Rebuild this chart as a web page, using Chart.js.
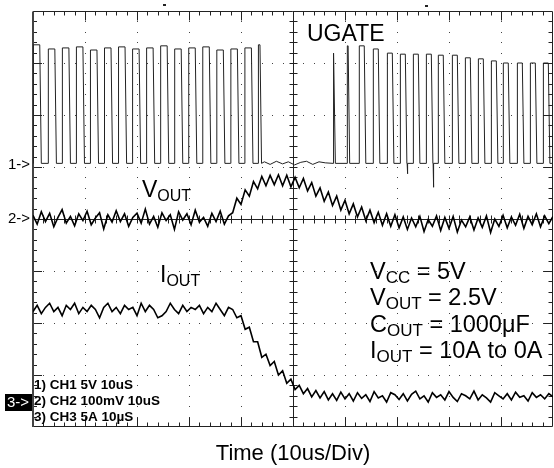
<!DOCTYPE html>
<html>
<head>
<meta charset="utf-8">
<script src="https://cdn.jsdelivr.net/npm/chart.js@4.4.0/dist/chart.umd.min.js"></script>
<style>
  html, body { margin:0; padding:0; background:#fff; }
</style>
</head>
<body>
<canvas id="grafico" width="554" height="468"></canvas>
<script>
// captura de osciloscopio: 10us/div, 10 div x 8 div
var sampleStepUs = 0.8;

// CH1 UGATE (V) - 5V/div
var ugateRise = [0.0, 2.9, 5.6, 8.3, 11.0, 13.7, 16.4, 19.1, 21.8, 24.5, 27.2, 29.9, 32.6, 35.3, 38.0, 40.7, 43.3,
                 57.7, 60.4, 62.7, 65.4, 68.1, 70.6, 73.1, 75.6, 77.9, 80.6, 83.1, 85.6, 88.1, 90.4, 93.1, 95.6, 98.1];
var ugateWidth = [1.3, 1.3, 1.3, 1.3, 1.3, 1.3, 1.3, 1.3, 1.3, 1.3, 1.3, 1.3, 1.3, 1.3, 1.3, 1.3, 0.35,
                  0.15, 0.2, 1.0, 1.0, 1.0, 1.0, 1.0, 1.0, 1.0, 1.0, 1.0, 1.0, 1.0, 1.0, 1.0, 1.0, 1.0];
var ugateHigh = [11.4, 11.0, 11.1, 11.2, 10.9, 11.1, 11.2, 11.0, 11.1, 11.3, 11.0, 11.1, 11.2, 10.9, 11.0, 11.1, 11.4,
                 10.6, 11.3, 11.3, 11.0, 10.6, 10.5, 10.5, 10.5, 10.4, 10.4, 10.15, 10.05, 9.85, 9.65, 9.65, 9.65, 9.65];
var ugateDipT = [72.0, 77.0];
var ugateDipV = [-1.0, -2.3];
var ugateFloorT = [44.5, 45.6, 46.8, 48.0, 49.1, 50.3, 51.5, 52.6, 53.8, 55.0, 56.2];
var ugateFloorV = [0.15, -0.1, 0.2, -0.05, 0.15, -0.15, 0.1, 0.2, -0.1, 0.15, 0.05];

// CH2 VOUT (mV, acoplado AC) - 100mV/div
var voutMv = [7,-10,14,-5,11,-15,3,18,-8,5,
              -13,10,-3,15,-11,2,12,-19,8,-6,
              16,-5,10,-14,3,11,-8,19,-10,5,
              -16,12,-3,8,-20,14,-2,10,-11,17,
              -6,3,-14,11,-5,15,-10,6,
              12,40,28,56,44,72,58,82,64,84,
              66,85,64,84,62,80,60,78,54,70,
              44,60,34,52,26,44,17,36,10,29,
              4,23,-3,17,-7,13,-12,10,-14,8,
              -17,4,-20,2,-15,5,-24,-1,-14,6,
              -22,3,-18,5,-25,-2,-15,4,-21,2,
              -16,6,-26,0,-14,7,-17,4,-12,9,
              -18,5,-11,10,-15,6,-9,5];

// CH3 IOUT (A) - 5A/div
var ioutA = [8.7,9.3,8.5,9.1,9.5,8.7,9.1,8.3,9.3,8.9,
             9.5,8.5,9.1,8.7,9.3,8.9,8.1,9.1,9.5,8.7,
             9.1,8.5,9.3,8.9,9.1,8.3,9.5,8.7,9.3,8.9,
             8.1,8.3,8.7,9.5,8.9,8.5,9.3,8.7,9.1,8.9,
             9.3,8.5,9.1,8.7,9.5,8.9,8.3,9.1,
             8.9,8.1,8.3,7.0,7.2,5.8,5.8,4.3,4.6,3.5,
             3.9,2.6,3.0,1.8,2.2,1.2,1.6,0.8,1.3,0.5,
             1.1,0.4,1.0,0.2,0.8,0.15,0.95,0.3,0.8,0.1,
             0.9,0.35,0.7,0.05,1.0,0.4,0.6,0.0,0.9,0.7,
             0.25,0.8,0.1,0.75,1.05,0.3,0.6,0.0,0.9,0.45,
             0.7,0.2,1.0,0.45,0.05,0.8,0.6,0.3,1.05,0.2,
             0.7,0.4,0.0,0.9,0.6,0.3,0.8,0.2,0.95,0.45,
             0.6,0.1,0.9,0.45,0.7,0.3,0.8,0.5];

// posicion de cada canal en pantalla (div) y escala por division
var ch1Offset = 1.07, ch1Scale = 5;
var ch2Offset = 0, ch2Scale = 100;
var ch3Offset = -3.52, ch3Scale = 5;

var familia = "'Liberation Sans', Arial, sans-serif";

function puntosUgate(){
    var pts = [];
    for (var i = 0; i < ugateRise.length; i++) {
        var r = ugateRise[i], w = ugateWidth[i], h = ugateHigh[i];
        pts.push({x:r, y:0}, {x:r+0.05, y:h}, {x:r+w, y:h}, {x:r+w+0.3, y:0});
    }
    for (var j = 0; j < ugateFloorT.length; j++) pts.push({x:ugateFloorT[j], y:ugateFloorV[j]});
    for (var k = 0; k < ugateDipT.length; k++) {
        pts.push({x:ugateDipT[k]-0.05, y:0}, {x:ugateDipT[k], y:ugateDipV[k]}, {x:ugateDipT[k]+0.08, y:0});
    }
    pts.push({x:100, y:0});
    pts.sort(function(a, b){ return a.x - b.x; });
    return pts.map(function(p){ return {x:p.x, y:ch1Offset + p.y/ch1Scale}; });
}

function puntosMuestreados(valores, offset, escala){
    return valores.map(function(v, i){ return {x:i*sampleStepUs, y:offset + v/escala}; });
}

var rejilla = {
    id: 'rejilla',
    beforeDatasetsDraw: function(chart){
        var ctx = chart.ctx, xs = chart.scales.x, ys = chart.scales.y, a = chart.chartArea;
        ctx.save();
        ctx.fillStyle = '#444';
        for (var d = 1; d < 10; d++) {
            if (d == 5) continue;
            var px = Math.round(xs.getPixelForValue(d*10));
            for (var m = 1; m < 40; m++) ctx.fillRect(px, Math.round(ys.getPixelForValue(-4 + m*0.2)), 1, 1);
        }
        for (var r = -3; r <= 3; r++) {
            if (r == 0) continue;
            var py = Math.round(ys.getPixelForValue(r));
            for (var n = 1; n < 50; n++) ctx.fillRect(Math.round(xs.getPixelForValue(n*2)), py, 1, 1);
        }
        ctx.strokeStyle = '#222';
        ctx.lineWidth = 1;
        var cx = Math.round(xs.getPixelForValue(50)) + 0.5;
        var cy = Math.round(ys.getPixelForValue(0)) + 0.5;
        var L = a.left, R = Math.round(a.right) - 0.5, T = Math.round(a.top) + 0.5, B = Math.round(a.bottom) - 0.5;
        ctx.beginPath();
        ctx.moveTo(L, T); ctx.lineTo(R, T); ctx.lineTo(R, B); ctx.lineTo(L, B);
        ctx.moveTo(cx, T); ctx.lineTo(cx, B);
        ctx.moveTo(L, cy); ctx.lineTo(R, cy);
        for (var i = 1; i < 50; i++) {
            var tx = Math.round(xs.getPixelForValue(i*2)) + 0.5;
            var lg = (i % 5 == 0) ? 9 : 4;
            ctx.moveTo(tx, T); ctx.lineTo(tx, T + lg);
            ctx.moveTo(tx, B); ctx.lineTo(tx, B - lg);
            ctx.moveTo(tx, cy - 4); ctx.lineTo(tx, cy + 4);
        }
        for (var j = 1; j < 40; j++) {
            var ty = Math.round(ys.getPixelForValue(-4 + j*0.2)) + 0.5;
            var lg2 = (j % 5 == 0) ? 9 : 4;
            ctx.moveTo(L, ty); ctx.lineTo(L + lg2, ty);
            ctx.moveTo(R, ty); ctx.lineTo(R - lg2, ty);
            ctx.moveTo(cx - 4, ty); ctx.lineTo(cx + 4, ty);
        }
        ctx.stroke();
        ctx.lineWidth = 2;
        ctx.strokeStyle = '#444';
        ctx.beginPath(); ctx.moveTo(L, T); ctx.lineTo(L, B + 0.5); ctx.stroke();
        // marcas de disparo arriba
        ctx.fillStyle = '#222';
        ctx.fillRect(Math.round(xs.getPixelForValue(25)), a.top - 7, 3, 2);
        ctx.fillRect(Math.round(xs.getPixelForValue(75.4)), a.top - 6, 3, 2);
        ctx.restore();
    }
};

function conSub(ctx, x, y, base, sub, resto, tam, tamSub){
    ctx.font = tam + 'px ' + familia;
    ctx.fillText(base, x, y);
    x += ctx.measureText(base).width;
    ctx.font = tamSub + 'px ' + familia;
    ctx.fillText(sub, x, y + 4);
    x += ctx.measureText(sub).width;
    if (resto) {
        ctx.font = tam + 'px ' + familia;
        ctx.fillText(resto, x, y);
    }
}

var rotulos = {
    id: 'rotulos',
    afterDatasetsDraw: function(chart){
        var ctx = chart.ctx;
        ctx.save();
        ctx.fillStyle = '#000';
        ctx.textBaseline = 'alphabetic';
        ctx.textAlign = 'left';
        ctx.font = '23px ' + familia;
        ctx.fillText('UGATE', 307, 41);
        conSub(ctx, 142, 197, 'V', 'OUT', '', 23, 16);
        conSub(ctx, 160, 282, 'I', 'OUT', '', 23, 16);
        conSub(ctx, 370, 279, 'V', 'CC', ' = 5V', 23.5, 17);
        conSub(ctx, 370, 305, 'V', 'OUT', ' = 2.5V', 23.5, 17);
        conSub(ctx, 370, 332, 'C', 'OUT', ' = 1000\u03bcF', 23.5, 17);
        conSub(ctx, 370, 358, 'I', 'OUT', ' = 10A to 0A', 23.5, 17);
        ctx.font = 'bold 13.5px ' + familia;
        ctx.fillText('1) CH1 5V 10uS', 34, 389);
        ctx.fillText('2) CH2 100mV 10uS', 34, 405);
        ctx.fillText('3) CH3 5A 10\u00b5S', 34, 421);
        ctx.font = '15px ' + familia;
        ctx.fillText('1->', 8, 169);
        ctx.fillText('2->', 8, 223);
        ctx.fillRect(5, 394, 27, 17);
        ctx.fillStyle = '#fff';
        ctx.fillText('3->', 7, 407);
        ctx.restore();
    }
};

var config = {
    type: 'line',
    data: {
        datasets: [
            { label: 'UGATE', data: puntosUgate(), borderColor: '#222', borderWidth: 1 },
            { label: 'VOUT', data: puntosMuestreados(voutMv, ch2Offset, ch2Scale), borderColor: '#000', borderWidth: 1.6 },
            { label: 'IOUT', data: puntosMuestreados(ioutA, ch3Offset, ch3Scale), borderColor: '#000', borderWidth: 1.6 }
        ]
    },
    options: {
        responsive: false,
        animation: false,
        parsing: false,
        elements: { point: { radius: 0 }, line: { tension: 0, fill: false } },
        layout: { padding: { left: 33, right: 1, top: 11, bottom: 0 } },
        scales: {
            x: { type: 'linear', min: 0, max: 100, display: false },
            y: { type: 'linear', min: -4, max: 4, display: false }
        },
        plugins: {
            legend: { display: false },
            tooltip: { enabled: false },
            title: {
                display: true,
                position: 'bottom',
                text: 'Time (10us/Div)',
                color: '#000',
                font: { family: familia, size: 22, weight: 'normal', lineHeight: 1.2 },
                padding: { top: 14, bottom: 0.6 }
            }
        }
    },
    plugins: [rejilla, rotulos]
};

var grafico = new Chart(document.getElementById('grafico').getContext('2d'), config);
</script>
</body>
</html>
